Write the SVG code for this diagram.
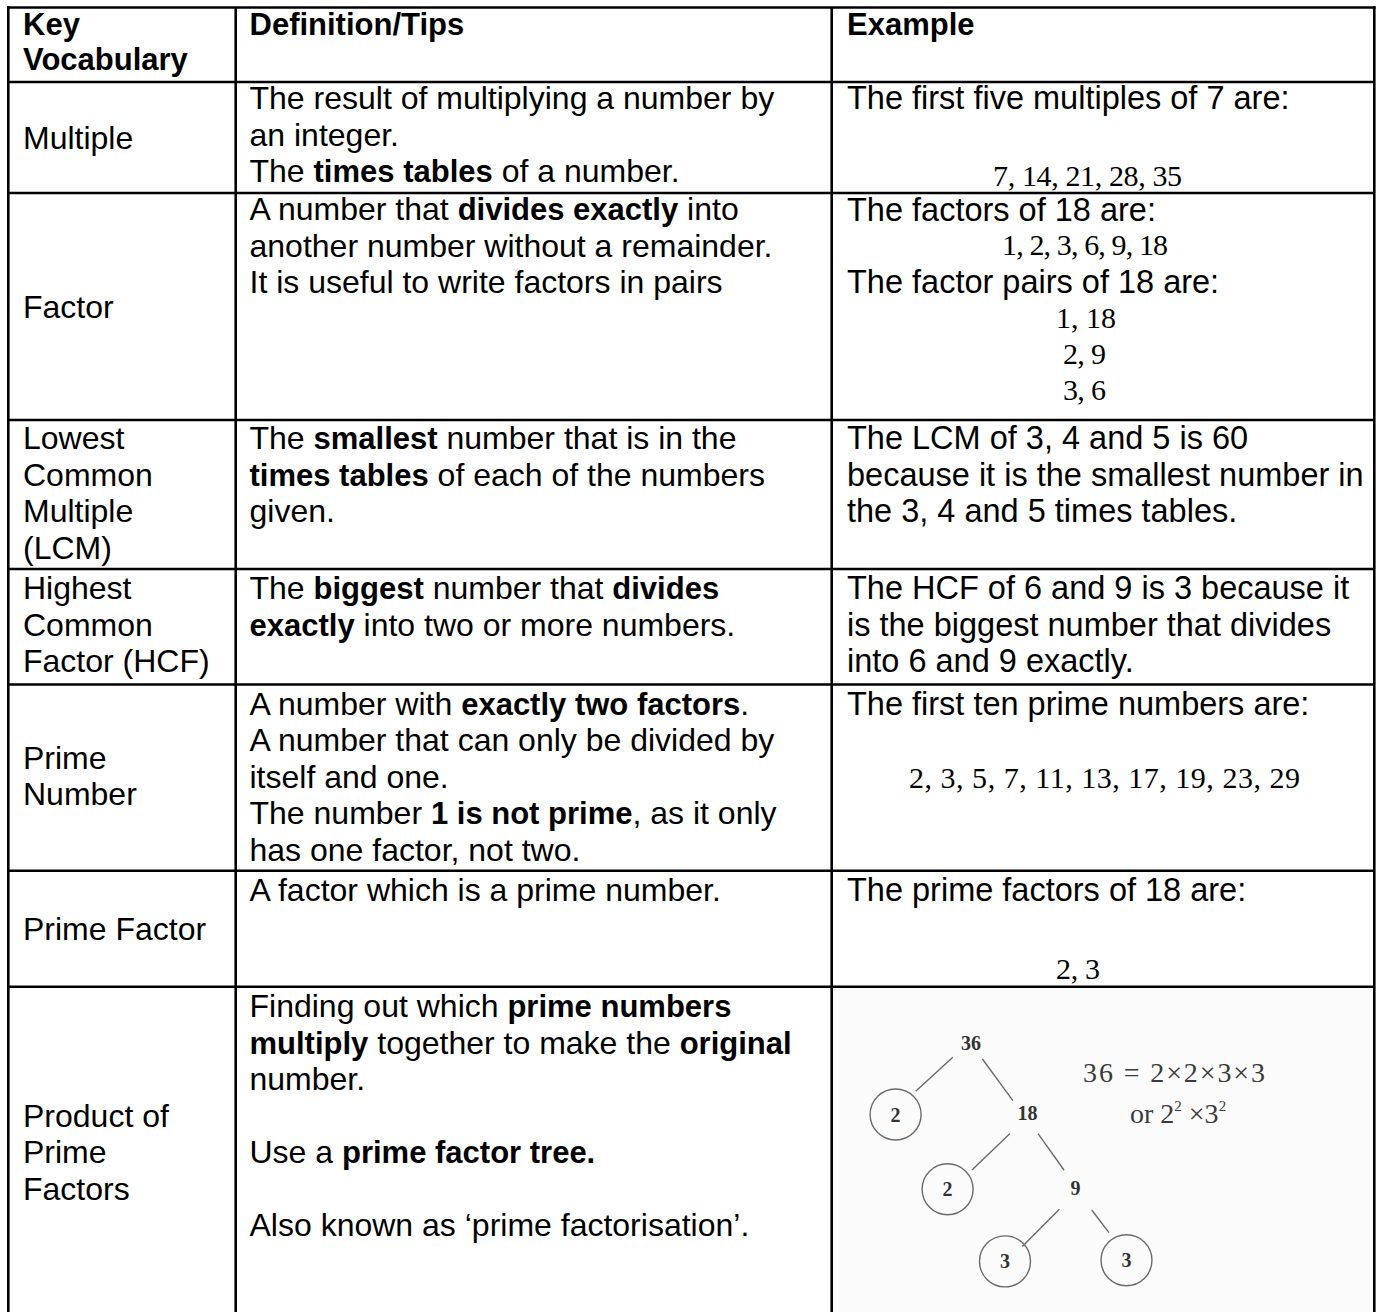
<svg xmlns="http://www.w3.org/2000/svg" width="1380" height="1312" viewBox="0 0 1380 1312">
<style>
.t{font-family:"Liberation Sans",Arial,sans-serif;font-size:32px;fill:#000}
.x{font-size:32.5px}
.b{font-weight:bold;font-size:31px}
.m{font-family:"Liberation Serif","Times New Roman",serif;font-size:30px;fill:#000}
.grid line{stroke:#000;stroke-width:2.6}
.tree line{stroke:#6a6a6a;stroke-width:1.4}
.tree circle{fill:none;stroke:#6a6a6a;stroke-width:1.4}
.nl{font-family:"Liberation Serif","Times New Roman",serif;font-size:20px;font-weight:bold;fill:#333;text-anchor:middle}
.eq{font-family:"Liberation Serif","Times New Roman",serif;font-size:28px;fill:#3a3a3a}
</style>
<rect x="0" y="0" width="1380" height="1312" fill="#fff"/>
<rect x="833" y="988" width="540" height="324" fill="#fbfbfb"/>

<g id="grid" class="grid">
<line x1="7" y1="7.5" x2="1375.6" y2="7.5"/>
<line x1="8.3" y1="6.2" x2="8.3" y2="1312"/>
<line x1="235.7" y1="7.5" x2="235.7" y2="1312"/>
<line x1="831.7" y1="7.5" x2="831.7" y2="1312"/>
<line x1="1374.3" y1="6.2" x2="1374.3" y2="1312"/>
<line x1="8.3" y1="82" x2="1374.3" y2="82"/>
<line x1="8.3" y1="193" x2="1374.3" y2="193"/>
<line x1="8.3" y1="420" x2="1374.3" y2="420"/>
<line x1="8.3" y1="569" x2="1374.3" y2="569"/>
<line x1="8.3" y1="684.5" x2="1374.3" y2="684.5"/>
<line x1="8.3" y1="870.7" x2="1374.3" y2="870.7"/>
<line x1="8.3" y1="986.7" x2="1374.3" y2="986.7"/>
</g>

<g id="header">
<text class="t b" x="23" y="35">Key</text>
<text class="t b" x="23" y="70">Vocabulary</text>
<text class="t b" x="249.5" y="35">Definition/Tips</text>
<text class="t b" x="847" y="35">Example</text>
</g>

<g id="row-multiple">
<text class="t" x="23" y="148.5">Multiple</text>
<text class="t" x="249.5" y="109">The result of multiplying a number by</text>
<text class="t" x="249.5" y="145.5">an integer.</text>
<text class="t" x="249.5" y="182">The <tspan class="b">times tables</tspan> of a number.</text>
<text class="t x" x="847" y="109">The first five multiples of 7 are:</text>
<text class="m" x="1087.5" y="185.5" text-anchor="middle" textLength="189" lengthAdjust="spacing">7, 14, 21, 28, 35</text>
</g>

<g id="row-factor">
<text class="t" x="23" y="318">Factor</text>
<text class="t" x="249.5" y="220">A number that <tspan class="b">divides exactly</tspan> into</text>
<text class="t" x="249.5" y="256.5">another number without a remainder.</text>
<text class="t" x="249.5" y="293">It is useful to write factors in pairs</text>
<text class="t x" x="847" y="221">The factors of 18 are:</text>
<text class="m" x="1085" y="255" text-anchor="middle" textLength="166" lengthAdjust="spacing">1, 2, 3, 6, 9, 18</text>
<text class="t x" x="847" y="293">The factor pairs of 18 are:</text>
<text class="m" x="1086" y="328" text-anchor="middle" textLength="60" lengthAdjust="spacing">1, 18</text>
<text class="m" x="1084.5" y="364" text-anchor="middle" textLength="43" lengthAdjust="spacing">2, 9</text>
<text class="m" x="1084.5" y="400" text-anchor="middle" textLength="43" lengthAdjust="spacing">3, 6</text>
</g>

<g id="row-lcm">
<text class="t" x="23" y="449">Lowest</text>
<text class="t" x="23" y="485.5">Common</text>
<text class="t" x="23" y="522">Multiple</text>
<text class="t" x="23" y="558.5">(LCM)</text>
<text class="t" x="249.5" y="449">The <tspan class="b">smallest</tspan> number that is in the</text>
<text class="t" x="249.5" y="485.5"><tspan class="b">times tables</tspan> of each of the numbers</text>
<text class="t" x="249.5" y="522">given.</text>
<text class="t x" x="847" y="449">The LCM of 3, 4 and 5 is 60</text>
<text class="t x" x="847" y="485.5">because it is the smallest number in</text>
<text class="t x" x="847" y="522">the 3, 4 and 5 times tables.</text>
</g>

<g id="row-hcf">
<text class="t" x="23" y="599">Highest</text>
<text class="t" x="23" y="635.5">Common</text>
<text class="t" x="23" y="672">Factor (HCF)</text>
<text class="t" x="249.5" y="599">The <tspan class="b">biggest</tspan> number that <tspan class="b">divides</tspan></text>
<text class="t" x="249.5" y="635.5"><tspan class="b">exactly</tspan> into two or more numbers.</text>
<text class="t x" x="847" y="599">The HCF of 6 and 9 is 3 because it</text>
<text class="t x" x="847" y="635.5">is the biggest number that divides</text>
<text class="t x" x="847" y="672">into 6 and 9 exactly.</text>
</g>

<g id="row-prime-number">
<text class="t" x="23" y="768.5">Prime</text>
<text class="t" x="23" y="805">Number</text>
<text class="t" x="249.5" y="714.5">A number with <tspan class="b">exactly two factors</tspan>.</text>
<text class="t" x="249.5" y="751">A number that can only be divided by</text>
<text class="t" x="249.5" y="787.5">itself and one.</text>
<text class="t" x="249.5" y="824">The number <tspan class="b">1 is not prime</tspan>, as it only</text>
<text class="t" x="249.5" y="860.5">has one factor, not two.</text>
<text class="t x" x="847" y="714.5">The first ten prime numbers are:</text>
<text class="m" x="1104.5" y="788" text-anchor="middle" textLength="391" lengthAdjust="spacing">2, 3, 5, 7, 11, 13, 17, 19, 23, 29</text>
</g>

<g id="row-prime-factor">
<text class="t" x="23" y="939.5">Prime Factor</text>
<text class="t" x="249.5" y="901">A factor which is a prime number.</text>
<text class="t x" x="847" y="901">The prime factors of 18 are:</text>
<text class="m" x="1078" y="979" text-anchor="middle" textLength="44" lengthAdjust="spacing">2, 3</text>
</g>

<g id="row-product">
<text class="t" x="23" y="1126.5">Product of</text>
<text class="t" x="23" y="1163">Prime</text>
<text class="t" x="23" y="1199.5">Factors</text>
<text class="t" x="249.5" y="1017">Finding out which <tspan class="b">prime numbers</tspan></text>
<text class="t" x="249.5" y="1053.5"><tspan class="b">multiply</tspan> together to make the <tspan class="b">original</tspan></text>
<text class="t" x="249.5" y="1090">number.</text>
<text class="t" x="249.5" y="1163">Use a <tspan class="b">prime factor tree.</tspan></text>
<text class="t" x="249.5" y="1236">Also known as ‘prime factorisation’.</text>
</g>

<g id="factor-tree" class="tree">
<line x1="952.8" y1="1057.2" x2="915.7" y2="1091.2"/>
<line x1="982.4" y1="1059" x2="1012.9" y2="1100.6"/>
<line x1="1010" y1="1133.6" x2="972" y2="1170"/>
<line x1="1038" y1="1133.6" x2="1064" y2="1170"/>
<line x1="1059.4" y1="1209.3" x2="1022.3" y2="1246.5"/>
<line x1="1091.7" y1="1210" x2="1109" y2="1232.6"/>
<circle cx="895.6" cy="1114.5" r="25.5"/>
<circle cx="947.6" cy="1189.2" r="25.5"/>
<circle cx="1005" cy="1261.4" r="25.5"/>
<circle cx="1126.5" cy="1260.3" r="25.5"/>
<text class="nl" x="971" y="1050">36</text>
<text class="nl" x="1027.5" y="1120">18</text>
<text class="nl" x="1075.4" y="1194.5">9</text>
<text class="nl" x="895.6" y="1121.5">2</text>
<text class="nl" x="947.6" y="1196.2">2</text>
<text class="nl" x="1005" y="1268.4">3</text>
<text class="nl" x="1126.5" y="1267.3">3</text>
<text class="eq" x="1083" y="1081.5" textLength="182" lengthAdjust="spacing">36 = 2×2×3×3</text>
<text class="eq" x="1130" y="1123">or 2<tspan font-size="15" dy="-12">2</tspan><tspan dy="12"> ×3</tspan><tspan font-size="15" dy="-12">2</tspan></text>
</g>
</svg>
